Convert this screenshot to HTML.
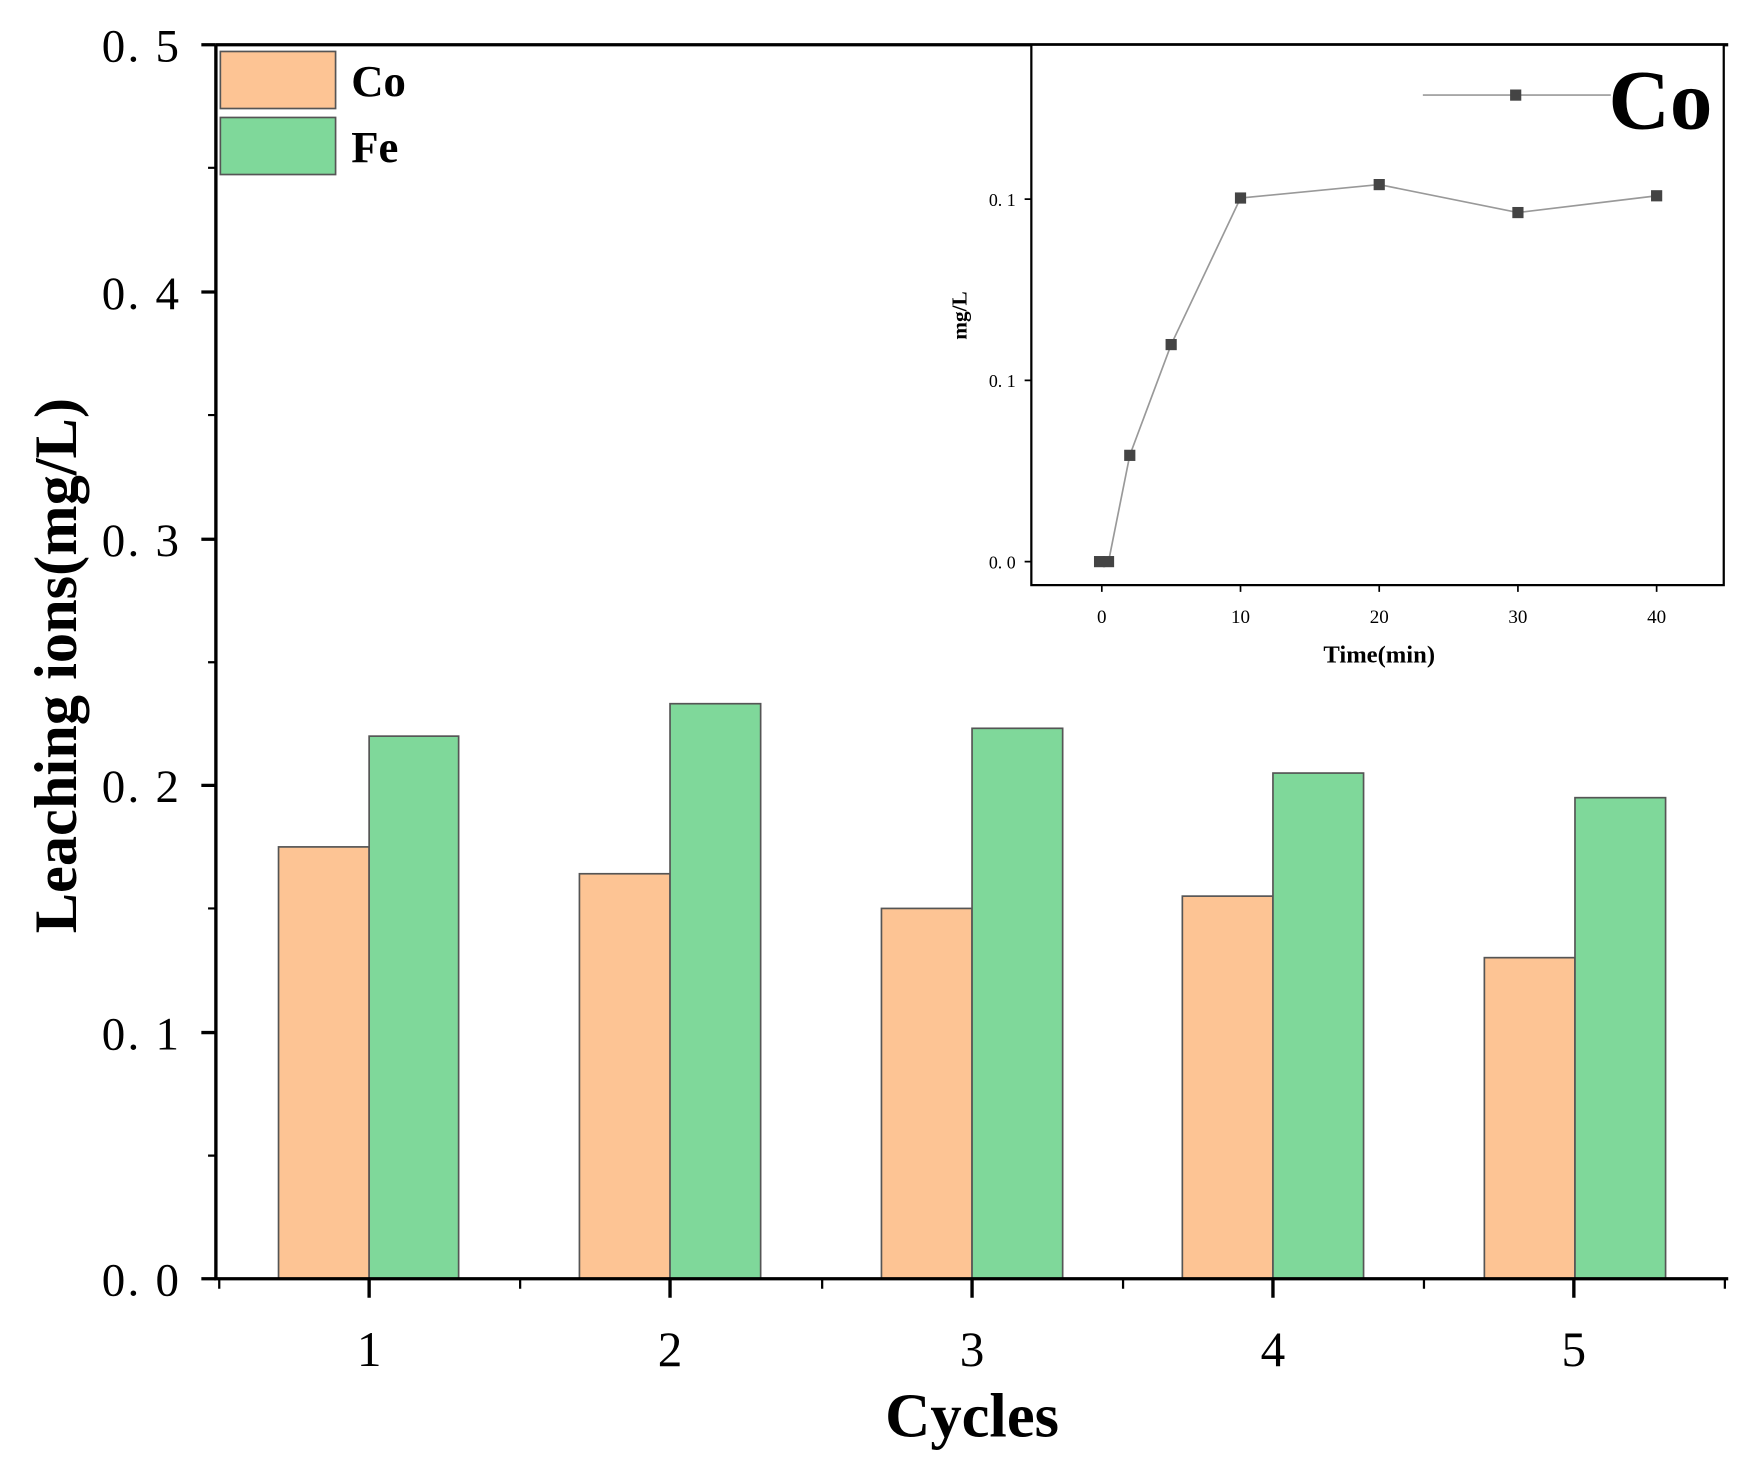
<!DOCTYPE html>
<html><head><style>html,body{margin:0;padding:0;background:#fff}svg{display:block}</style></head>
<body>
<svg width="1745" height="1479" viewBox="0 0 1560 1322" preserveAspectRatio="none" xmlns="http://www.w3.org/2000/svg" font-family="Liberation Serif, serif">
<rect width="1560" height="1322" fill="#fff"/>
<g stroke="#555" stroke-width="1.5">
<rect x="249" y="757" width="81" height="386" fill="#fdc494"/>
<rect x="330" y="658" width="80" height="485" fill="#7fd89a"/>
<rect x="518" y="781" width="81" height="362" fill="#fdc494"/>
<rect x="599" y="629" width="81" height="514" fill="#7fd89a"/>
<rect x="788" y="812" width="81" height="331" fill="#fdc494"/>
<rect x="869" y="651" width="81" height="492" fill="#7fd89a"/>
<rect x="1057" y="801" width="81" height="342" fill="#fdc494"/>
<rect x="1138" y="691" width="81" height="452" fill="#7fd89a"/>
<rect x="1327" y="856" width="81" height="287" fill="#fdc494"/>
<rect x="1408" y="713" width="81" height="430" fill="#7fd89a"/>
</g>
<g stroke="#000" stroke-width="3" fill="none">
<path d="M193 40 V1143 H1545"/>
<path d="M193 40 H1545"/>
<path d="M180 40H193M180 261H193M180 482H193M180 702H193M180 923H193M180 1143H193" />
<path d="M186 150H193M186 371H193M186 592H193M186 812H193M186 1033H193" stroke-width="2"/>
<path d="M330 1143V1160M599 1143V1160M869 1143V1160M1138 1143V1160M1407 1143V1160"/>
<path d="M465 1143V1152M735 1143V1152M1004 1143V1152M1273 1143V1152M196 1143V1152M1542 1143V1152" stroke-width="2"/>
</g>
<g font-size="42" text-anchor="end" letter-spacing="2">
<text x="162" y="55">0. 5</text><text x="162" y="276">0. 4</text><text x="162" y="497">0. 3</text>
<text x="162" y="717">0. 2</text><text x="162" y="938">0. 1</text><text x="162" y="1158">0. 0</text>
</g>
<g font-size="44" text-anchor="middle">
<text x="330" y="1221">1</text><text x="599" y="1221">2</text><text x="869" y="1221">3</text><text x="1138" y="1221">4</text><text x="1407" y="1221">5</text>
</g>
<text x="869" y="1284" font-size="56" font-weight="bold" text-anchor="middle">Cycles</text>
<text transform="translate(68,595) rotate(-90)" font-size="54" font-weight="bold" text-anchor="middle">Leaching ions(mg/L)</text>
<rect x="197" y="46" width="103" height="51" fill="#fdc494" stroke="#555" stroke-width="1.5"/>
<rect x="197" y="105" width="103" height="51" fill="#7fd89a" stroke="#555" stroke-width="1.5"/>
<text x="314" y="86" font-size="40" font-weight="bold">Co</text>
<text x="314" y="145" font-size="40" font-weight="bold">Fe</text>
<rect x="922" y="40" width="619" height="483" fill="#fff" stroke="#000" stroke-width="2"/>
<g stroke="#000" stroke-width="1.5">
<path d="M922 502h-6M922 340h-6M922 178h-6"/>
<path d="M985 523v6M1109 523v6M1233 523v6M1357 523v6M1481 523v6"/>
</g>
<g font-size="16" text-anchor="end"><text x="908" y="508">0. 0</text><text x="908" y="346">0. 1</text><text x="908" y="184">0. 1</text></g>
<g font-size="17" text-anchor="middle"><text x="985" y="557">0</text><text x="1109" y="557">10</text><text x="1233" y="557">20</text><text x="1357" y="557">30</text><text x="1481" y="557">40</text></g>
<text x="1233" y="592" font-size="22" font-weight="bold" text-anchor="middle">Time(min)</text>
<text transform="translate(864,282) rotate(-90)" font-size="19" font-weight="bold" text-anchor="middle">mg/L</text>
<polyline points="983,502 991,502 1010,407 1047,308 1109,177 1233,165 1357,190 1481,175" fill="none" stroke="#999" stroke-width="1.5"/>
<g fill="#444">
<rect x="978" y="497" width="10" height="10"/><rect x="986" y="497" width="10" height="10"/>
<rect x="1005" y="402" width="10" height="10"/><rect x="1042" y="303" width="10" height="10"/>
<rect x="1104" y="172" width="10" height="10"/><rect x="1228" y="160" width="10" height="10"/>
<rect x="1352" y="185" width="10" height="10"/><rect x="1476" y="170" width="10" height="10"/>
</g>
<line x1="1272" y1="85" x2="1440" y2="85" stroke="#999" stroke-width="1.5"/>
<rect x="1350" y="80" width="10" height="10" fill="#444"/>
<text x="1438" y="115" font-size="76" font-weight="bold">Co</text>
</svg>
</body></html>
